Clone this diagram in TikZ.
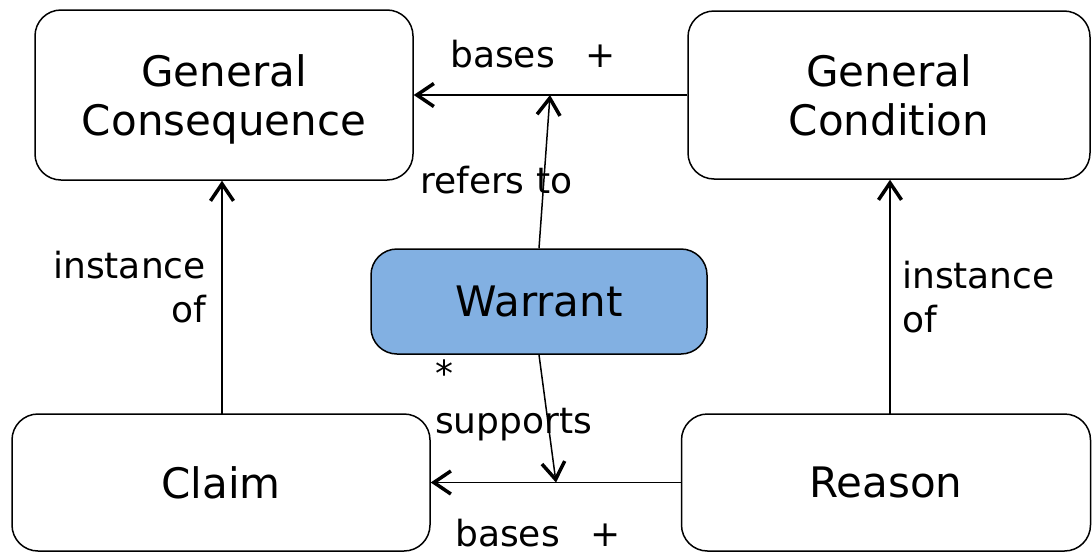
\documentclass[tikz,border=0pt]{standalone}
\usepackage{fontspec}
\setmainfont{DejaVu Sans}
\usetikzlibrary{arrows.meta}
\definecolor{warrantblue}{RGB}{130,176,226}
\newcommand{\nodepth}[1]{\raisebox{0pt}[\height][0pt]{#1}}
\tikzset{
  box/.style={draw=black, line width=1.5pt, rounded corners=26pt, align=center,
    inner sep=0pt, font=\fontsize{42}{49}\selectfont},
  lbl/.style={inner sep=0pt, font=\fontsize{36}{44}\selectfont},
  conn/.style={line width=1.5pt, -{Straight Barb[length=17pt,width=23pt,line width=3.5pt]}},
}
\begin{document}
\begin{tikzpicture}[x=1pt,y=-1pt]
\useasboundingbox (0,0) rectangle (1092,552);
\node[box, minimum width=378pt, minimum height=170pt] (gcons) at (224,95) {General\\\nodepth{Consequence}};
\node[box, minimum width=402pt, minimum height=168pt] (gcond) at (889,95) {General\\Condition};
\node[box, fill=warrantblue, minimum width=336pt, minimum height=105pt] (warrant) at (539,301.5) {Warrant};
\node[box, minimum width=418pt, minimum height=137pt] (claim) at (221,482.5) {Claim};
\node[box, minimum width=409pt, minimum height=137pt] (reason) at (886,482.5) {Reason};
\coordinate (c1) at (550,95);
\coordinate (c2) at (556,482.5);
\draw[conn] (gcond.west) -- (gcons.east);
\draw[conn] (reason.west) -- (claim.east);
\draw[conn] (warrant.north) -- (c1);
\draw[conn] (warrant.south) -- (c2);
\draw[conn] (222,414) coordinate (cl) -- (cl |- gcons.south);
\draw[conn] (890,414) coordinate (rs) -- (rs |- gcond.south);
\node[lbl, anchor=base west] (t1) at (450,67) {bases\hspace{0.85em}+};
\node[lbl, anchor=base west] (t2) at (455,546) {bases\hspace{0.85em}+};
\node[lbl, anchor=base west] (t3) at (420,193) {refers to};
\node[lbl, anchor=base east, align=right] (t4) at (206,322) {instance\hspace{13pt}\\of};
\node[lbl, anchor=base west, align=left] (t5) at (902,332) {instance\\of};
\node[lbl, anchor=base west, align=left] (t6) at (435,433) {*\\[3pt]supports};
\end{tikzpicture}
\end{document}
